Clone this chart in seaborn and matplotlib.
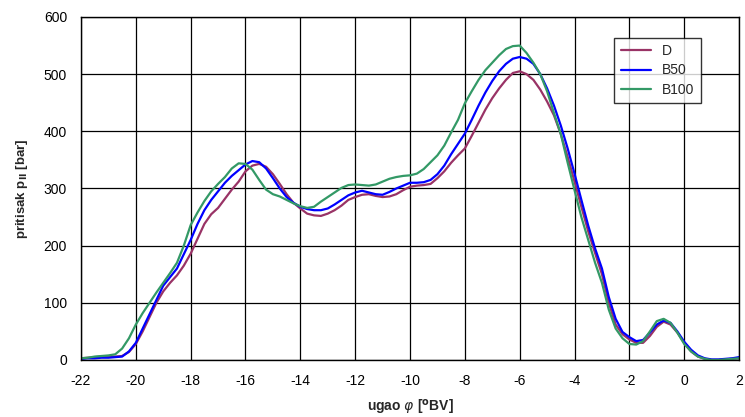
import numpy as np
import pandas as pd
import matplotlib
matplotlib.use("Agg")
import matplotlib.pyplot as plt
import seaborn as sns

# crank angle grid, step 0.25 deg
ugao = [-22 + 0.25 * i for i in range(97)]

p_D = [3, 4, 5, 6, 6, 6, 7, 14, 28, 50, 75, 100, 120, 135, 148, 165, 186, 212, 238, 255,
       266, 282, 298, 312, 330, 340, 343, 338, 325, 308, 290, 275, 265, 256, 253, 252, 256, 262, 270, 280,
       285, 289, 290, 287, 285, 286, 290, 297, 303, 305, 306, 308, 318, 330, 345, 358, 370, 392, 415, 438,
       458, 475, 490, 502, 505, 500, 490, 473, 452, 428, 395, 355, 312, 268, 225, 187, 150, 100, 62, 45,
       36, 30, 30, 42, 58, 67, 62, 48, 30, 15, 6, 2, 0, 0, 1, 2, 3]

p_B50 = [2, 3, 3, 4, 4, 5, 6, 15, 30, 55, 80, 105, 130, 145, 160, 185, 210, 238, 262, 280,
         295, 310, 322, 332, 342, 348, 346, 335, 318, 300, 285, 275, 268, 264, 262, 262, 265, 272, 280, 288,
         293, 296, 293, 290, 289, 294, 300, 305, 310, 310, 311, 315, 325, 340, 360, 378, 396, 420, 445, 468,
         488, 505, 518, 527, 530, 527, 518, 500, 475, 445, 410, 370, 326, 280, 235, 195, 160, 110, 72, 49,
         40, 33, 35, 48, 62, 69, 65, 50, 32, 18, 8, 3, 1, 1, 2, 3, 5]

p_B100 = [3, 4, 6, 7, 8, 10, 20, 38, 62, 82, 100, 118, 135, 152, 170, 200, 236, 258, 278, 295,
          308, 320, 335, 344, 343, 333, 315, 298, 290, 286, 280, 274, 269, 266, 268, 277, 285, 293, 301, 306,
          307, 306, 305, 307, 312, 317, 320, 322, 323, 326, 334, 346, 358, 375, 398, 420, 449, 470, 490, 507,
          520, 533, 544, 549, 550, 537, 520, 500, 470, 432, 395, 345, 297, 250, 210, 170, 135, 88, 55, 38,
          28, 27, 33, 50, 68, 72, 65, 48, 28, 15, 6, 2, 0, 0, 1, 2, 3]

goriva = ["D", "B50", "B100"]
boje = ["#993366", "#0000ff", "#339966"]

df = pd.DataFrame({
    "ugao": ugao * 3,
    "p": p_D + p_B50 + p_B100,
    "gorivo": ["D"] * len(ugao) + ["B50"] * len(ugao) + ["B100"] * len(ugao),
})

sns.set_style("white")
plt.rcParams["font.family"] = ["Liberation Sans", "DejaVu Sans"]
plt.rcParams["axes.unicode_minus"] = False

fig = plt.figure(figsize=(7.45, 4.17), dpi=100)
ax = fig.add_axes([0.1087, 0.1367, 0.8833, 0.8226])

sns.lineplot(data=df, x="ugao", y="p", hue="gorivo", hue_order=goriva,
             palette=boje, linewidth=1.6, ax=ax)

ax.set_xlim(-22, 2)
ax.set_ylim(0, 600)
ax.set_xticks(range(-22, 3, 2))
ax.set_yticks(range(0, 601, 100))
ax.grid(True, color="black", linewidth=0.9)
ax.set_axisbelow(True)
for s in ax.spines.values():
    s.set_color("black")
    s.set_linewidth(1.0)
ax.tick_params(length=0, labelsize=10, pad=10, colors="black")

ax.set_xlabel(r"ugao $\varphi$ [$^{\mathbf{o}}$BV]", fontsize=10, fontweight="bold", labelpad=7)
ax.set_ylabel(r"pritisak p$_{\mathbf{II}}$ [bar]", fontsize=9.5, fontweight="bold", labelpad=10)

leg = ax.legend(loc="upper left", bbox_to_anchor=(0.80, 0.96), frameon=True, fancybox=False,
                edgecolor="black", fontsize=10, handlelength=2.2, borderpad=0.45,
                labelspacing=0.4, title=None)
leg.get_frame().set_linewidth(1.0)

fig.savefig("out.png", dpi=100)
